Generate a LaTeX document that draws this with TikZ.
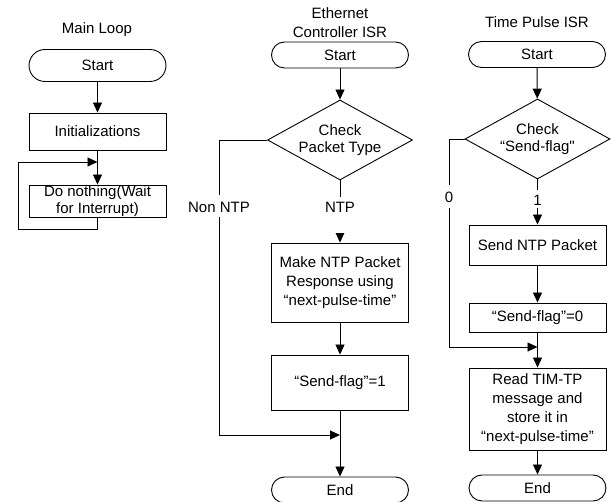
\documentclass[tikz,border=0pt]{standalone}
\usepackage{fontspec}
\setmainfont{Liberation Sans}
\newfontfamily\plainquotes[Ligatures=ResetAll]{Liberation Sans}
\usetikzlibrary{arrows.meta,shapes.geometric}

\begin{document}
\begin{tikzpicture}[x=1pt,y=-1pt,
  every node/.style={font=\fontsize{15}{19}\selectfont},
  tight/.style={font=\fontsize{15}{17}\selectfont},
  wire/.style={draw, line width=0.9pt},
  flow/.style={wire, -{Triangle[length=10pt,width=9pt]}},
  proc/.style={draw, line width=0.9pt, rectangle, minimum width=137pt, inner sep=0pt, align=center},
  term/.style={draw, line width=0.9pt, rectangle, rounded corners=13pt, minimum width=137pt, minimum height=26pt, inner sep=0pt},
  decide/.style={draw, line width=0.9pt, diamond, aspect=1.8, minimum width=145pt, minimum height=80pt, inner sep=0pt, align=center, tight},
  title/.style={align=center},
  cut/.style={fill=white, inner xsep=1pt, inner ysep=0pt, anchor=north}
]
\useasboundingbox (0,0) rectangle (614,502);

% ---------- Main loop ----------
\node[title] (t1) at (97,30) {Main Loop};
\node[term, minimum height=32pt, rounded corners=16pt] (m1) at (97.5,65.5) {Start};
\node[proc, minimum height=37pt] (m2) at (97.5,131.5) {Initializations};
\node[proc, minimum height=32pt, tight] (m3) at (97.5,201) {Do nothing(Wait\\for Interrupt)};
\coordinate (mj) at (97.5,162);

\draw[flow] (m1) -- (m2);
\draw[flow] (m2) -- (m3);
\draw[flow] (m3.south) -- ++(0,12) -| (18,162) -- (mj);

% ---------- Ethernet controller ISR ----------
\node[title] (t2) at (340,22.5) {Ethernet\\Controller ISR};
\node[term] (e1) at (340,55) {Start};
\node[decide] (e2) at (340,140) {Check\\Packet Type};
\node[proc, minimum height=79pt] (e3) at (340,282.5) {Make NTP Packet\\Response using\\“next-pulse-time”};
\node[proc, minimum height=55pt] (e4) at (340,382.5) {“Send-flag”=1};
\node[term] (e5) at (340,490) {End};
\coordinate (ej) at (340,435);

\draw[flow] (e1) -- (e2);
\draw[flow] (e2.south) -- (e3.north);
\draw[flow] (e3) -- (e4);
\draw[flow] (e4) -- (e5);
\draw[flow] (e2.west) -| (219,435) -- (ej);

\node[cut, text height=15.5pt, text depth=20.5pt] (ntp) at (340,197) {NTP};
\node[cut, text height=17pt, text depth=5pt] (nonntp) at (219,195) {Non NTP};

% ---------- Time pulse ISR ----------
\node[title] (t3) at (537,22) {Time Pulse ISR};
\node[term] (p1) at (537,54.5) {Start};
\node[decide] (p2) at (537.5,139) {Check\\“Send-flag{\plainquotes"}};
\node[proc, minimum height=40pt] (p3) at (537.5,245) {Send NTP Packet};
\node[proc, minimum height=29pt] (p4) at (537.5,317.5) {“Send-flag”=0};
\node[proc, minimum height=82pt] (p5) at (537.5,409) {Read TIM-TP\\message and\\store it in\\“next-pulse-time”};
\node[term] (p6) at (537.5,488) {End};
\coordinate (pj) at (537.5,347);

\draw[flow] (p1) -- (p2);
\draw[flow] (p2.south) -- (p3.north);
\draw[flow] (p3) -- (p4);
\draw[flow] (p4) -- (p5);
\draw[flow] (p5) -- (p6);
\draw[flow] (p2.west) -| (449,347) -- (pj);

\node[cut, text height=15pt, text depth=3pt] (one) at (537.5,190) {1};
\node[cut, text height=17pt, text depth=6pt] (zero) at (449,185) {0};
\end{tikzpicture}
\end{document}
